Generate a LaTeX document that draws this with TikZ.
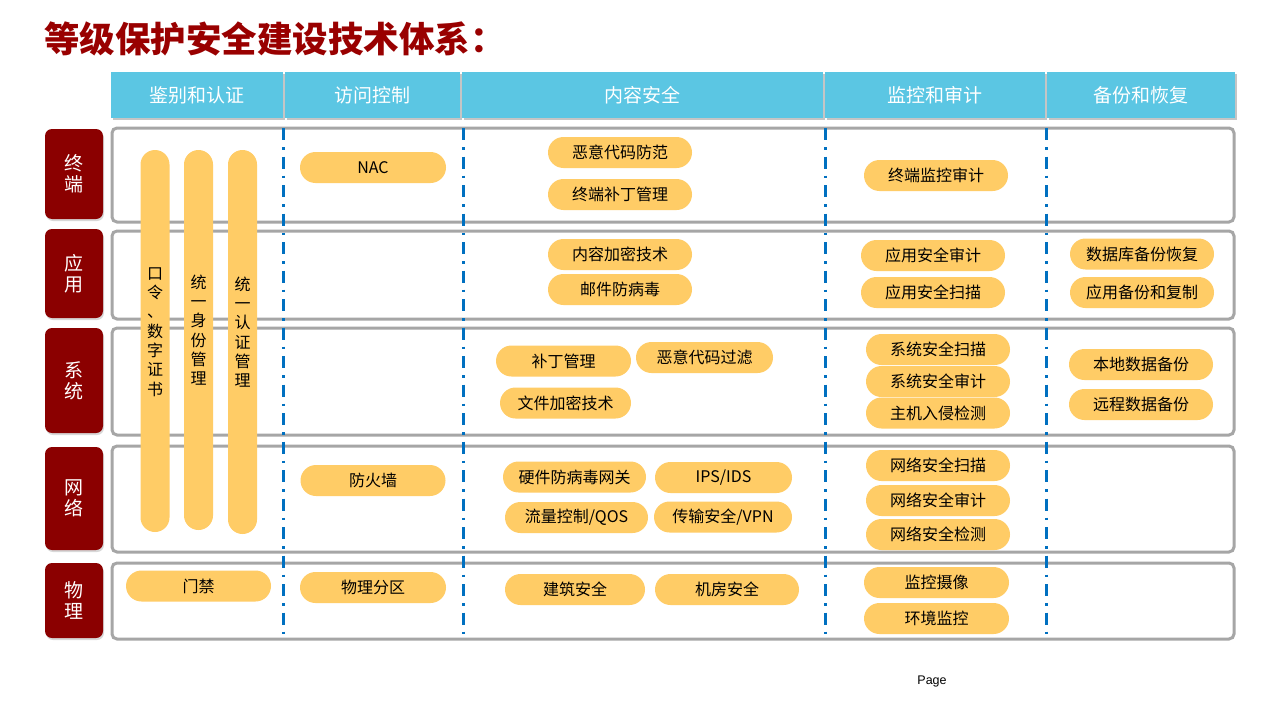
\documentclass[tikz,border=0pt]{standalone}
\usepackage{fontspec}
\setmainfont{Noto Sans CJK SC}
\newfontfamily\pagefont{Liberation Sans}
\usetikzlibrary{shadows}
\definecolor{titlered}{RGB}{153,0,0}
\definecolor{labelred}{RGB}{139,0,0}
\definecolor{hdrcyan}{RGB}{91,198,227}
\definecolor{pillfill}{RGB}{255,204,102}
\definecolor{rowgray}{RGB}{166,166,166}
\definecolor{dashblue}{RGB}{0,112,192}
\begin{document}
\begin{tikzpicture}[x=1pt,y=-1pt,
  pill/.style={fill=pillfill, rounded corners=15.5pt, minimum height=31pt, minimum width=144pt, inner sep=0pt, font=\fontsize{16}{19}\selectfont, text=black},
  hdr/.style={fill=hdrcyan, minimum height=46pt, inner sep=0pt, text=white, font=\fontsize{19}{22}\selectfont,
    drop shadow={shadow xshift=1.5pt, shadow yshift=-1.5pt, opacity=0.45}},
  rowlabel/.style={fill=labelred, rounded corners=7pt, minimum width=58pt, inner sep=0pt, text=white, align=center,
    font=\fontsize{19}{21}\selectfont, drop shadow={shadow xshift=1pt, shadow yshift=-2pt, opacity=0.3}},
  rowbox/.style={draw=rowgray, line width=3pt, rounded corners=5pt, minimum width=1122pt, inner sep=0pt, fill=white},
  sep/.style={draw=dashblue, line width=3pt, dash pattern=on 12pt off 7pt on 2.5pt off 7pt},
  vbar/.style={fill=pillfill, rounded corners=14.5pt, minimum width=29pt, inner sep=0pt},
  vtext/.style={align=center, font=\fontsize{16}{19.3}\selectfont, inner sep=0pt}
]
\useasboundingbox (0,0) rectangle (1280,720);
\fill[white] (0,0) rectangle (1280,720);

% title
\node[anchor=west, inner sep=0pt, text=titlered, font=\fontsize{35.5}{40}\selectfont\bfseries] (title) at (44,39) {等级保护安全建设技术体系：};

% header
\node[hdr, minimum width=172pt] (h1) at (197,95) {鉴别和认证};
\node[hdr, minimum width=175pt] (h2) at (372.5,95) {访问控制};
\node[hdr, minimum width=361pt] (h3) at (642.5,95) {内容安全};
\node[hdr, minimum width=220pt] (h4) at (935,95) {监控和审计};
\node[hdr, minimum width=188pt] (h5) at (1141,95) {备份和恢复};

% row boxes
\node[rowbox, minimum height=94pt] (r1) at (673,175) {};
\node[rowbox, minimum height=88pt] (r2) at (673,275) {};
\node[rowbox, minimum height=107pt] (r3) at (673,381.5) {};
\node[rowbox, minimum height=106pt] (r4) at (673,499) {};
\node[rowbox, minimum height=76pt] (r5) at (673,601) {};

% row labels
\node[rowlabel, minimum height=90pt] (l1) at (74,174) {终\\端};
\node[rowlabel, minimum height=89pt] (l2) at (74,273.5) {应\\用};
\node[rowlabel, minimum height=105pt] (l3) at (74,380.5) {系\\统};
\node[rowlabel, minimum height=103pt] (l4) at (74,498.5) {网\\络};
\node[rowlabel, minimum height=75pt] (l5) at (74,600.5) {物\\理};

% dashed separators
\coordinate (s1t) at (283,128); \coordinate (s1b) at (283,640);
\coordinate (s2t) at (463,128); \coordinate (s2b) at (463,640);
\coordinate (s3t) at (825,128); \coordinate (s3b) at (825,640);
\coordinate (s4t) at (1046,128); \coordinate (s4b) at (1046,640);
\draw[sep] (s1t) -- (s1b);
\draw[sep] (s2t) -- (s2b);
\draw[sep] (s3t) -- (s3b);
\draw[sep] (s4t) -- (s4b);

% vertical bars
\node[vbar, minimum height=382pt] (b1) at (155,341) {};
\node[vbar, minimum height=380pt] (b2) at (198.5,340) {};
\node[vbar, minimum height=384pt] (b3) at (242.5,342) {};
\node[vtext] (t1) at (155,332) {口\\令\\、\\数\\字\\证\\书};
\node[vtext] (t2) at (198.5,330) {统\\一\\身\\份\\管\\理};
\node[vtext] (t3) at (242.5,332) {统\\一\\认\\证\\管\\理};

% row 1
\node[pill, minimum width=146pt] (p11) at (373,167.5) {NAC};
\node[pill] (p12) at (620,152.5) {恶意代码防范};
\node[pill] (p13) at (620,194.5) {终端补丁管理};
\node[pill] (p14) at (936,175.5) {终端监控审计};

% row 2
\node[pill] (p21) at (620,254.5) {内容加密技术};
\node[pill] (p22) at (620,289.5) {邮件防病毒};
\node[pill] (p23) at (933,255.5) {应用安全审计};
\node[pill] (p24) at (933,292.5) {应用安全扫描};
\node[pill] (p25) at (1142,254) {数据库备份恢复};
\node[pill] (p26) at (1142,292.5) {应用备份和复制};

% row 3
\node[pill, minimum width=135pt] (p31) at (563.5,361) {补丁管理};
\node[pill, minimum width=137pt] (p32) at (704.5,357.5) {恶意代码过滤};
\node[pill, minimum width=131pt] (p33) at (565.5,403) {文件加密技术};
\node[pill] (p34) at (938,349.5) {系统安全扫描};
\node[pill] (p35) at (938,381.5) {系统安全审计};
\node[pill] (p36) at (938,413) {主机入侵检测};
\node[pill] (p37) at (1141,364.5) {本地数据备份};
\node[pill] (p38) at (1141,404.5) {远程数据备份};

% row 4
\node[pill, minimum width=145pt] (p41) at (373,480.5) {防火墙};
\node[pill, minimum width=143pt] (p42) at (574.5,477) {硬件防病毒网关};
\node[pill, minimum width=137pt] (p43) at (723.5,477.5) {IPS/IDS};
\node[pill, minimum width=143pt] (p44) at (576.5,517.5) {流量控制/QOS};
\node[pill, minimum width=138pt] (p45) at (723,517) {传输安全/VPN};
\node[pill] (p46) at (938,465.5) {网络安全扫描};
\node[pill] (p47) at (938,500.5) {网络安全审计};
\node[pill] (p48) at (938,534.5) {网络安全检测};

% row 5
\node[pill, minimum width=145pt] (p51) at (198.5,586) {门禁};
\node[pill, minimum width=146pt] (p52) at (373,587.5) {物理分区};
\node[pill, minimum width=140pt] (p53) at (575,589.5) {建筑安全};
\node[pill] (p54) at (727,589.5) {机房安全};
\node[pill, minimum width=145pt] (p55) at (936.5,582.5) {监控摄像};
\node[pill, minimum width=145pt] (p56) at (936.5,618.5) {环境监控};

% page
\node[inner sep=0pt, font=\pagefont\fontsize{12.5}{14}\selectfont] (page) at (932,681) {Page};
\end{tikzpicture}
\end{document}
